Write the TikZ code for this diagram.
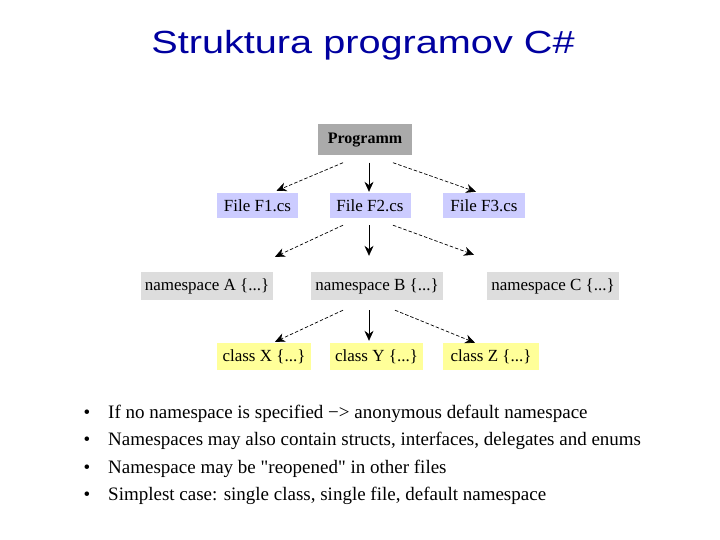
\documentclass[tikz,border=0pt]{standalone}
\usepackage{fontspec}
\usetikzlibrary{arrows.meta}
\setmainfont[Ligatures=TeXOff]{Liberation Serif}
\newfontfamily\titlefont[FakeStretch=1.24]{Liberation Sans}
\definecolor{titleblue}{RGB}{0,0,160}
\definecolor{proggray}{RGB}{170,170,170}
\definecolor{filelav}{RGB}{204,204,255}
\definecolor{nsgray}{RGB}{221,221,221}
\definecolor{classyel}{RGB}{255,255,153}
\begin{document}
\begin{tikzpicture}[x=1pt,y=-1pt,
    box/.style={inner sep=0pt,font=\fontsize{17}{17}\selectfont},
    arr/.style={-{Stealth[length=10pt,width=9pt]},line width=0.7pt},
    dsh/.style={arr,dash pattern=on 3.5pt off 2pt}]
    \useasboundingbox[fill=white] (0,0) rectangle (720,540);
    % title
    \node[titleblue,font=\titlefont\fontsize{32}{32}\selectfont] (title) at (363,45) {Struktura programov C\#};
    % level 0
    \node[box,fill=proggray,minimum width=94pt,minimum height=31pt,font=\bfseries\fontsize{16}{16}\selectfont] (prog) at (365,140) {Programm};
    % level 1
    \node[box,fill=filelav,minimum width=81pt,minimum height=25pt] (fone) at (257.5,205.5) {File F1.cs};
    \node[box,fill=filelav,minimum width=81pt,minimum height=25pt] (ftwo) at (370,205.5) {File F2.cs};
    \node[box,fill=filelav,minimum width=82pt,minimum height=25pt] (fthree) at (484,205.5) {File F3.cs};
    \draw[dsh] ([xshift=-22pt,yshift=-7pt]prog.south) -- ([xshift=19pt,yshift=2pt]fone.north);
    \draw[arr] ([xshift=4pt,yshift=-7pt]prog.south) -- ([xshift=-1pt,yshift=1pt]ftwo.north);
    \draw[dsh] ([xshift=28pt,yshift=-7pt]prog.south) -- ([xshift=-8pt,yshift=1pt]fthree.north);
    % level 2
    \node[box,fill=nsgray,minimum width=132pt,minimum height=28pt] (nsa) at (207,286) {namespace A \{...\}};
    \node[box,fill=nsgray,minimum width=132pt,minimum height=28pt] (nsb) at (377,286) {namespace B \{...\}};
    \node[box,fill=nsgray,minimum width=132pt,minimum height=28pt] (nsc) at (553,286) {namespace C \{...\}};
    \draw[dsh] ([xshift=-27pt,yshift=-7pt]ftwo.south) -- ([xshift=68pt,yshift=15pt]nsa.north);
    \draw[arr] ([xshift=-1pt,yshift=-7pt]ftwo.south) -- ([xshift=-8pt,yshift=16pt]nsb.north);
    \draw[dsh] ([xshift=23pt,yshift=-7pt]ftwo.south) -- ([xshift=-79pt,yshift=17pt]nsc.north);
    % level 3
    \node[box,fill=classyel,minimum width=94pt,minimum height=27pt] (clx) at (264,356.5) {class X \{...\}};
    \node[box,fill=classyel,minimum width=93pt,minimum height=27pt] (cly) at (376.5,356.5) {class Y \{...\}};
    \node[box,fill=classyel,minimum width=96pt,minimum height=27pt] (clz) at (491,356.5) {class Z \{...\}};
    \draw[dsh] ([xshift=-34pt,yshift=-10pt]nsb.south) -- ([xshift=11pt,yshift=1pt]clx.north);
    \draw[arr] ([xshift=-8pt,yshift=-10pt]nsb.south) -- ([xshift=-7.5pt,yshift=2pt]cly.north);
    \draw[dsh] ([xshift=18pt,yshift=-10pt]nsb.south) -- ([xshift=-16pt,yshift=0pt]clz.north);
    % bullets
    \foreach \txt [count=\i] in {%
        {If no namespace is specified −> anonymous default namespace},
        {Namespaces may also contain structs, interfaces, delegates and enums},
        {Namespace may be "reopened" in other files},
        {Simplest case: single class, single file, default namespace}} {
      \node[anchor=base,inner sep=0pt,font=\fontsize{19}{19}\selectfont] (dot\i) at (87,390.5+27.5*\i) {\textbullet};
      \node[anchor=base west,inner sep=0pt,font=\fontsize{19}{19}\selectfont] (item\i) at (108,390.5+27.5*\i) {\txt};
    }
\end{tikzpicture}
\end{document}
